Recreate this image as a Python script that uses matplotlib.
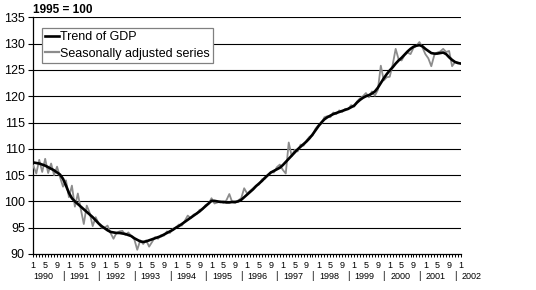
import matplotlib
matplotlib.use("Agg")
import matplotlib.pyplot as plt
from matplotlib.lines import Line2D

# ---------------- data ----------------
years = ["1990", "1991", "1992", "1993", "1994", "1995", "1996",
         "1997", "1998", "1999", "2000", "2001", "2002"]
month_labels = ["1", "5", "9"]          # labelled months within each year
month_numbers = [1, 5, 9]

trend = [
    107.4, 107.3, 107.2, 107.0, 106.8, 106.5, 106.2, 105.9, 105.5, 105.1, 104.3, 103.0,  # 1990
    101.6, 100.6, 100.0, 99.5, 99.0, 98.5, 98.0, 97.5, 97.0, 96.4, 95.8, 95.3,          # 1991
    94.9, 94.5, 94.2, 94.1, 94.0, 94.0, 93.9, 93.8, 93.6, 93.4, 93.0, 92.7,             # 1992
    92.4, 92.3, 92.4, 92.6, 92.8, 93.0, 93.2, 93.4, 93.7, 94.0, 94.3, 94.6,             # 1993
    95.0, 95.3, 95.7, 96.1, 96.5, 96.9, 97.3, 97.7, 98.1, 98.6, 99.1, 99.6,             # 1994
    100.1, 100.1, 100.0, 99.9, 99.9, 99.8, 99.8, 99.9, 99.9, 100.0, 100.3, 100.8,       # 1995
    101.3, 101.8, 102.3, 102.9, 103.4, 103.9, 104.5, 105.0, 105.5, 105.8, 106.1, 106.4, # 1996
    106.9, 107.5, 108.1, 108.7, 109.3, 109.9, 110.4, 110.9, 111.4, 112.0, 112.7, 113.5, # 1997
    114.3, 115.0, 115.6, 116.0, 116.3, 116.6, 116.8, 117.0, 117.2, 117.4, 117.6, 117.9, # 1998
    118.2, 118.8, 119.3, 119.7, 120.0, 120.2, 120.5, 120.9, 121.6, 122.5, 123.4, 124.2, # 1999
    124.9, 125.5, 126.2, 126.8, 127.3, 127.9, 128.5, 129.0, 129.4, 129.6, 129.7, 129.5, # 2000
    129.0, 128.6, 128.2, 128.1, 128.1, 128.2, 128.3, 128.0, 127.4, 126.9, 126.5, 126.3, # 2001
    126.2,                                                                              # 2002
]

seasonally_adjusted = [
    106.8, 105.3, 107.9, 105.6, 108.1, 105.4, 107.2, 105.0, 106.6, 104.6, 102.8, 104.0,  # 1990
    100.8, 103.0, 99.0, 101.5, 98.5, 95.7, 99.2, 97.8, 95.3, 97.0, 95.8, 95.0,          # 1991
    95.0, 95.4, 94.0, 92.9, 94.0, 94.3, 94.4, 93.6, 94.1, 93.4, 92.8, 90.8,             # 1992
    92.6, 91.9, 92.6, 91.4, 92.3, 93.2, 92.9, 93.6, 93.5, 94.3, 94.0, 94.8,             # 1993
    95.0, 95.6, 95.4, 96.3, 97.3, 96.8, 97.5, 97.6, 98.4, 98.5, 99.3, 99.5,             # 1994
    100.6, 99.6, 99.8, 100.0, 99.7, 100.2, 101.4, 99.8, 99.7, 100.2, 100.6, 102.5,      # 1995
    101.5, 102.0, 102.5, 103.0, 103.2, 104.2, 104.3, 105.0, 105.6, 105.5, 106.5, 107.0, # 1996
    106.0, 105.3, 111.2, 108.6, 109.8, 109.5, 110.8, 110.6, 111.6, 112.3, 112.5, 113.8, # 1997
    114.5, 114.8, 116.0, 116.2, 116.0, 116.9, 116.6, 117.3, 117.0, 117.6, 117.5, 118.3, # 1998
    118.0, 119.0, 119.6, 120.0, 120.6, 119.8, 120.9, 120.1, 121.2, 125.8, 123.0, 123.6, # 1999
    123.7, 126.0, 129.0, 127.0, 126.8, 127.8, 128.3, 128.0, 129.2, 129.6, 130.3, 129.3, # 2000
    128.0, 127.2, 125.7, 127.8, 128.3, 128.5, 129.0, 128.4, 128.6, 125.7, 126.5, 126.4, # 2001
    126.2,                                                                              # 2002
]

y_ticks = [90, 95, 100, 105, 110, 115, 120, 125, 130, 135]
index_label = "1995 = 100"
legend_labels = ["Trend of GDP", "Seasonally adjusted series"]

# ---------------- figure ----------------
plt.rcParams["font.family"] = ["Liberation Sans", "DejaVu Sans"]
W, H = 536, 290
fig = plt.figure(figsize=(W / 100, H / 100), dpi=100)
L, R, T, B = 33.3, 461.0, 17.3, 254.0
ax = fig.add_axes([L / W, 1 - B / H, (R - L) / W, (B - T) / H])

x = list(range(len(trend)))
gray = "#8c8c8c"
ax.plot(x, seasonally_adjusted, color=gray, lw=1.3, solid_joinstyle="round", zorder=3)
ax.plot(x, trend, color="black", lw=1.9, solid_joinstyle="round", zorder=4)

ax.set_xlim(0, len(trend) - 1)
ax.set_ylim(y_ticks[0], y_ticks[-1])

# y axis
ax.set_yticks(y_ticks)
ax.tick_params(axis="y", direction="out", length=3.6, width=0.8, pad=2.5,
               labelsize=9, colors="black")
for yv in y_ticks[1:]:
    ax.axhline(yv, color="black", lw=0.8, zorder=1)

# x axis: monthly minor ticks, labels for months 1, 5, 9
major_pos, major_lab = [], []
for k, yr in enumerate(years):
    for mn, lab in zip(month_numbers, month_labels):
        pos = 12 * k + (mn - 1)
        if pos <= len(trend) - 1:
            major_pos.append(pos)
            major_lab.append(lab)
ax.set_xticks(major_pos)
ax.set_xticklabels(major_lab)
ax.set_xticks(x, minor=True)
ax.tick_params(axis="x", which="both", direction="out", length=2.2, width=0.7,
               pad=2.5, labelsize=6.5, colors="black")

# year labels with separators
for k, yr in enumerate(years):
    pos = 12 * k
    ax.annotate(yr, xy=(pos, 0), xycoords=("data", "axes fraction"),
                xytext=(0.3, -16), textcoords="offset points",
                ha="left", va="center", fontsize=6.5, annotation_clip=False)
    if k > 0:
        ax.annotate("|", xy=(pos, 0), xycoords=("data", "axes fraction"),
                    xytext=(-4.3, -16), textcoords="offset points",
                    ha="center", va="center", fontsize=7, annotation_clip=False)

for side in ("top", "right"):
    ax.spines[side].set_visible(False)
for side in ("left", "bottom"):
    ax.spines[side].set_color("black")
    ax.spines[side].set_linewidth(0.9)

# legend
handles = [Line2D([], [], color="black", lw=1.9),
           Line2D([], [], color=gray, lw=1.6)]
leg = ax.legend(handles, legend_labels, loc="upper left",
                bbox_to_anchor=((42 - L) / (R - L), (B - 28) / (B - T)),
                fontsize=9, frameon=True, fancybox=False, framealpha=1,
                edgecolor="#808080", handlelength=1.1, handletextpad=0.1,
                borderpad=0.25, labelspacing=0.35, borderaxespad=0)
leg.get_frame().set_linewidth(0.9)
leg.set_zorder(6)

fig.text(L / W, 1 - 10 / H, index_label, ha="left", va="center",
         fontsize=8.5, fontweight="bold")

fig.savefig("out.png", dpi=100)
